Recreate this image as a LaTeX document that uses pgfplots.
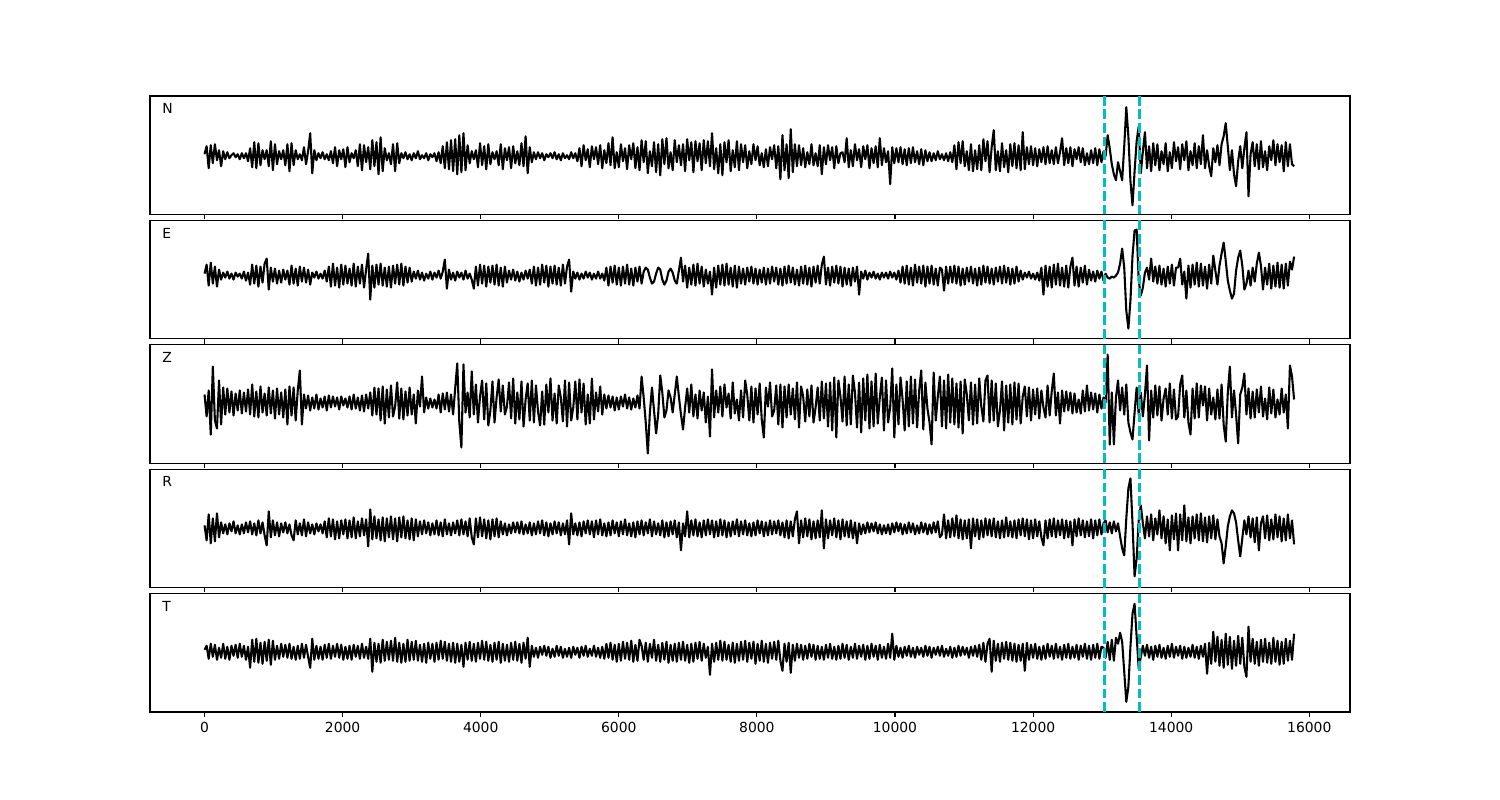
\documentclass[border=0pt]{standalone}
\usepackage{fontspec}
\setmainfont{DejaVu Sans}
\usepackage{pgfplots}
\pgfplotsset{compat=1.18}
\definecolor{cdash}{rgb}{0,0.75,0.75}
\tikzset{lab/.style={anchor=base west, inner sep=0pt, font=\fontsize{10bp}{12bp}\selectfont}}
\pgfplotsset{
 panel/.style={
  width=12in, height=1.1846in, scale only axis, anchor=south west,
  xmin=-790, xmax=16590, ymin=-59.23, ymax=59.23,
  xtick={0,2000,...,16000}, ytick=\empty,
  xtick pos=left, tick align=outside,
  major tick length=3.5bp,
  every tick/.style={black, line width=0.8bp},
  axis line style={line width=0.8bp},
  scaled x ticks=false,
  xticklabel style={font=\fontsize{10bp}{12bp}\selectfont},
  /pgf/number format/assume math mode=true,
  /pgf/number format/1000 sep={},
 },
 tr/.style={black, line width=1.5bp, line join=round, mark=none, empty line=none},
 dl/.style={cdash, line width=2.2bp, dash pattern=on 7bp off 2.8bp},
}
\begin{document}
\begin{tikzpicture}
\useasboundingbox (0,0) rectangle (15in,8in);
% ---------------- N ----------------
\begin{axis}[panel, at={(1.5in,5.8554in)}, xticklabels={}]
\addplot[tr] table[x expr=\coordindex*30, y expr=\thisrowno{0}-1, header=false] {
2
10
-12
11
-7
12
-4
6
-10
5

-3
4
-2
1
3
-1
2
-3
3
-2

3
-5
8
-11
14
-12
13
-9
6
-3

6
-10
15
-14
12
-8
5
-3
6
-9

12
-15
13
-9
6
-3
2
-4
9
-8

5
23
-17
6
-4
3
-2
4
-3
2

-4
5
-7
9
-10
6
-3
7
-11
9

-6
3
-2
6
-10
12
-14
11
-6
9

-13
16
-10
14
-18
19
-15
8
-4
3

-8
12
-15
13
-7
3
-2
4
-3
2

-4
3
-2
5
-3
1
-2
3
-4
2

-1
3
-5
4
-7
10
-12
14
-13
16

-15
17
-18
21
-16
23
-14
11
-7
5

-3
6
-11
13
-9
10
-13
12
-8
4

-3
5
-9
12
-13
8
-4
9
-12
10

-7
5
-9
13
-10
20
-17
9
-6
4

-3
4
-2
3
-4
2
-1
3
-2
4

-3
2
-4
3
-2
1
-3
4
-2
3

-5
8
-10
11
-4
7
-11
10
-3
9

-8
11
-12
6
-7
13
-9
19
-12
4

-11
12
-5
8
-13
11
-3
13
-12
9

-14
16
-6
15
-17
5
-10
14
-16
12

-19
17
-8
18
-12
4
-14
16
-6
11

-9
12
-15
17
-4
14
-16
15
-5
13

-14
16
-7
15
-10
23
-13
8
-17
12

-19
14
-6
16
-15
6
-11
15
-14
12

-6
11
-12
5
-8
12
-4
10
-9
3

-11
7
-10
9
-3
11
-12
10
-23
21

-14
12
-22
27
-16
12
-10
11
-9
8

-11
4
-8
12
-9
3
-10
11
-18
9

-8
11
-4
9
-12
10
-7
3
4
-6

18
-11
6
-10
12
-4
7
-11
10
-3

11
-12
8
-7
10
-11
18
-9
8
-6

5
-28
9
-7
8
-6
9
-8
7
-9

8
-7
9
-6
5
-8
7
-9
6
-5

4
-5
3
-4
5
-3
2
-4
3
-5

4
-6
11
-13
14
-7
15
-10
5
-14

12
-15
6
-13
11
-14
17
-5
15
-16

9
26
-14
5
-15
13
-11
6
-16
12

-10
13
-12
11
-14
24
-13
9
-8
10

-9
8
-10
7
-6
9
-8
10
-7
6

-8
9
-7
4
18
-9
8
-7
9
-10

7
-3
9
-6
8
-9
3
-8
6
-7

8
-9
7
-6
5
0
21
8
-8
-18

-24
-6
-15
-24
10
49
20
-25
-49
-15

15
30
-17
5
24
-12
10
-15
13
-9

12
-14
5
-8
13
-15
4
-12
14
-5

9
-13
12
-4
15
-14
5
-9
13
-12

10
-8
21
-12
6
-10
-20
8
-6
11

-9
12
20
33
10
-14
6
-18
-30
-5

10
-12
8
24
-40
2
14
-10
12
-13

15
-11
5
-14
10
-4
16
-9
12
-6

11
-15
14
-10
12
-8
-10
};
\addplot[dl] coordinates {(13040,-59.23) (13040,59.23)};
\addplot[dl] coordinates {(13535,-59.23) (13535,59.23)};
\node[lab] at (rel axis cs:0.01,0.85) {N};
\end{axis}
% ---------------- E ----------------
\begin{axis}[panel, at={(1.5in,4.6116in)}, xticklabels={}]
\addplot[tr] table[x expr=\coordindex*30, y expr=\thisrowno{0}+4, header=false] {
2
11
-10
13
-8
9
-11
6
-4
3

-2
4
-3
2
-4
3
-1
2
-3
4

-5
3
-9
11
-8
10
-11
9
-7
12

17
-14
8
-6
7
-8
5
-7
6
-4

5
-9
10
-8
7
-10
9
-6
8
-7

6
-9
3
-2
4
-3
2
-3
5
-6

9
-11
12
-10
8
-12
11
-9
10
-8

7
-10
12
-11
9
-8
11
-12
6
22

-24
10
-12
11
-9
12
-10
8
-11
9

-12
10
-8
11
-9
12
-10
9
-7
8

-6
4
-3
5
-4
3
-5
2
-3
4

-4
3
-2
5
-3
4
16
-13
6
-4

3
-5
4
-2
3
-4
5
-3
2
-4

-13
9
-10
11
-8
10
-11
9
-7
10

-9
11
-10
8
-11
9
-7
5
-4
6

-5
4
-6
3
-4
5
-3
6
-8
9

-10
8
-9
11
-7
10
-11
9
-8
10

-9
8
-10
11
-8
9
16
-16
4
-3

3
-4
2
-3
4
-2
3
-4
2
-3

4
-3
2
-5
8
-10
9
-7
10
-9

8
-10
9
-8
11
-9
7
-10
8
-6

9
-8
4
8
6
-2
-8
-6
2
8

6
-4
-9
-5
4
7
3
-5
-8
5

18
-6
10
-12
8
-9
11
-10
12
-8

9
-11
6
-8
4
-19
8
-12
10
-9

11
-10
12
-9
8
-11
10
-12
9
-8

7
-9
8
-6
9
-8
7
-9
6
-7

8
-9
7
-8
9
-6
8
-9
7
-10

9
-8
10
-7
8
-9
6
-10
9
-8

10
-9
8
-11
9
-7
10
-8
11
19

-9
8
-10
9
-7
10
-8
9
-11
8

-9
7
-10
8
-6
9
-19
4
-3
5

-4
3
-2
4
-3
2
-4
3
-2
3

-3
4
-2
3
-4
5
-7
9
-8
10

-9
8
-10
11
-7
9
-8
10
-11
9

-8
10
-9
7
-10
8
6
-15
9
-8

9
-7
10
-8
9
-10
7
-9
8
-6

9
-8
7
-10
8
-9
10
-7
9
-8

7
-9
8
-6
9
-8
10
-7
8
-9

7
-8
9
-6
5
-4
3
-2
4
-3

2
-4
3
-5
8
-19
10
-11
9
-12

11
-9
12
-10
8
-11
10
-12
9
18

-10
9
-11
8
-7
10
-9
6
-5
4

-6
5
-3
4
-5
2
-2
-3
-1
-2

0
3
12
27
8
-35
-53
-25
20
45

46
-5
-20
-12
3
8
-4
17
-6
9

-8
10
-9
7
-11
9
-8
11
-10
8

8
17
-9
4
-23
10
-12
11
-9
13

-11
12
-10
9
-13
11
-8
20
5
-9

10
22
33
15
-5
-15
-23
-18
5
18

25
10
-14
-8
5
-10
8
-6
12
23

10
-14
8
-9
12
-13
10
-11
13
-12

11
-13
12
-10
14
6
19
};
\addplot[dl] coordinates {(13040,-59.23) (13040,59.23)};
\addplot[dl] coordinates {(13535,-59.23) (13535,59.23)};
\node[lab] at (rel axis cs:0.01,0.85) {E};
\end{axis}
% ---------------- Z ----------------
\begin{axis}[panel, at={(1.5in,3.3678in)}, xticklabels={}]
\addplot[tr] table[x expr=\coordindex*30, y expr=\thisrowno{0}+1.5, header=false] {
8
-14
12
-32
36
-18
-26
22
-22
15

-12
14
-10
11
-13
9
-8
12
-11
10

-9
13
-12
18
-14
11
-15
16
-10
9

-13
15
-11
12
-16
14
-12
10
-15
13

-22
16
-13
15
-18
12
32
-22
8
-6

7
-8
5
-6
8
-7
4
-5
6
-8

7
-5
6
-4
5
-7
6
-3
4
-5

6
-7
8
-6
5
-8
7
-9
8
-6

10
-13
15
-12
14
-18
16
-21
13
-15

17
-14
-4
20
-16
14
-17
11
-13
15

-12
8
-21
12
-4
26
-10
5
-6
4

-5
3
-6
8
-10
9
-7
10
-9
8

-12
14
39
-20
-45
38
-10
10
-15
31

-12
18
-20
6
22
-17
19
-23
-8
21

-20
5
23
-9
17
-12
-4
20
-16
24

-21
10
-17
21
-24
3
19
-18
22
-20

17
-9
-23
11
-22
18
-10
24
-18
9

-21
17
5
-19
22
-24
20
-18
-5
21

-17
23
-10
19
-22
8
-21
24
-17
10

-9
16
-12
8
-6
7
-5
6
-8
5

-7
6
-4
8
-6
5
-7
4
-5
7

-6
26
5
-20
-51
-10
15
-8
-31
-12

27
10
-15
-8
12
5
-10
8
26
6

-12
-27
-5
14
-10
18
-14
8
-16
12

-8
10
-20
6
-34
33
-15
12
-10
16

-14
18
-5
9
-16
20
-11
3
-18
12

-15
22
8
-18
16
-20
14
-12
19
-17

-35
15
-4
20
-14
-8
17
-22
18
-25

16
-15
18
-12
14
-17
20
-25
16
6

-19
13
-14
17
-20
-5
15
-18
21
-16

19
-24
20
-28
25
-35
22
6
-19
26

-23
18
-22
27
10
-25
20
-30
24
-18

28
-26
21
-24
29
-21
5
25
-28
22

-20
-5
34
-35
18
-22
25
3
-28
21

-24
26
-21
23
-25
12
32
-27
20
-6

-20
-42
30
-18
6
26
-24
22
-26
28

-20
24
-22
19
-25
21
-31
23
8
-18

20
-22
18
-21
24
-4
-19
22
27
-20

22
-18
19
-24
-8
21
-28
17
-20
18

-22
20
-17
19
-21
6
16
-14
15
-18

13
-12
14
-16
12
-5
-15
17
-13
11

29
-13
10
-21
12
-9
11
-8
10
-11

9
-10
3
-11
12
-9
17
-8
10
-7

9
-10
8
-6
5
0
48
-42
10
-42

5
22
-8
15
-12
18
-20
-30
-37
-10

15
-12
10
-14
8
37
-38
12
-15
17

-13
16
-18
4
14
-12
19
-16
13
-17

-14
18
27
-15
12
-20
-32
14
-16
19

-15
17
-3
16
-18
14
-12
5
-17
13

-16
18
-22
-39
10
36
-15
12
-12
-41

8
15
29
-12
14
-16
11
-15
13
-10

16
-14
4
-17
15
-11
13
-15
3
-12

14
-10
8
-26
37
26
3
};
\addplot[dl] coordinates {(13040,-59.23) (13040,59.23)};
\addplot[dl] coordinates {(13535,-59.23) (13535,59.23)};
\node[lab] at (rel axis cs:0.01,0.85) {Z};
\end{axis}
% ---------------- R ----------------
\begin{axis}[panel, at={(1.5in,2.124in)}, xticklabels={}]
\addplot[tr] table[x expr=\coordindex*30, y expr=\thisrowno{0}, header=false] {
3
-12
14
-15
10
-13
15
-9
6
-5

4
-6
5
-3
7
-5
3
-6
4
-5

6
-4
7
-6
5
-7
8
-5
6
-7

-17
17
-9
8
-7
6
-8
5
-4
6

-5
4
-7
-12
8
-6
5
-7
9
-8

6
-5
4
-6
5
-3
4
-5
7
-9

10
-8
9
-11
7
-10
8
-6
9
-10

8
-9
11
-10
7
-8
10
-7
9
-18

19
-11
12
-10
9
-12
11
-13
10
-9

12
-11
10
-13
11
-9
12
-10
8
-11

10
-12
9
-8
7
-6
8
-5
6
-7

5
-6
8
-7
6
-8
9
-6
5
-7

6
-5
8
-7
9
-6
7
-8
10
-9

-16
10
-9
11
-8
9
-10
8
-11
9

-8
10
-9
7
-6
5
-7
4
-5
6

-4
6
-5
7
-6
4
-5
6
-7
5

-6
7
-5
8
-7
6
-8
5
-6
7

-5
6
-7
5
-6
8
-16
15
-6
5

-7
6
-8
7
-5
8
-6
7
-9
8

-6
9
-7
5
-8
6
-7
8
-5
6

-8
7
-6
9
-7
5
-8
6
-9
7

-6
8
-7
6
-5
9
-8
7
-6
5

-7
8
-9
6
-8
7
-6
8
-9
6

-22
5
-8
17
-9
8
-7
9
-8
6

-9
8
-7
9
-6
8
-9
7
-8
9

-7
8
-9
6
-8
7
-6
9
-8
7

-6
8
-7
5
-8
6
-7
8
-5
7

-8
6
-7
8
-6
7
-5
8
-7
6

-9
8
-10
7
-8
9
17
-15
8
-9

10
-8
9
-11
7
-10
8
-9
18
-20

9
-10
8
-7
10
-9
8
-11
9
-8

7
-9
8
-10
6
-15
5
-6
4
-5

6
-4
5
-3
6
-5
4
-6
3
-5

4
-6
5
-4
6
-3
5
-6
4
-5

6
-4
5
-6
3
-5
6
-4
5
-6

4
-5
6
-4
7
-9
-6
14
-10
8

-9
10
-8
13
-10
9
-11
8
-10
9

-20
10
-8
9
-11
8
-9
10
-7
9

-8
10
-9
7
-10
8
-9
11
-8
7

-9
8
-10
9
-7
10
-8
9
-11
8

-10
9
-8
7
-9
-17
8
-10
9
-8

10
-9
8
-7
9
-10
8
-9
7
-17

9
-8
10
-7
8
-9
7
-8
9
-10

8
-7
9
-6
5
8
-4
6
-5
7

-3
5
-8
-20
-27
10
40
50
5
-48

-30
8
23
5
-10
12
-8
14
-12
10

-6
18
-10
12
-15
9
-22
13
-11
15

-22
14
-12
23
-13
11
-15
12
-10
14

-12
15
-13
11
-14
12
-10
13
-11
9

-8
-15
-35
-18
2
12
18
15
6
-12

-28
-10
8
-6
12
-9
10
-14
11
-22

5
12
-10
13
-12
9
-11
14
-9
12

-13
10
-12
14
-10
8
-16
};
\addplot[dl] coordinates {(13040,-59.23) (13040,59.23)};
\addplot[dl] coordinates {(13535,-59.23) (13535,59.23)};
\node[lab] at (rel axis cs:0.01,0.85) {R};
\end{axis}
% ---------------- T ----------------
\begin{axis}[panel, at={(1.5in,0.88in)}]
\addplot[tr] table[x expr=\coordindex*30, y expr=\thisrowno{0}+1, header=false] {
2
6
-7
8
-5
7
-8
4
-6
8

-7
5
-8
6
-4
7
-6
8
-5
6

-8
5
-16
12
-10
13
-11
9
-12
10

-9
12
-13
11
-8
6
-7
8
-5
7

-6
8
-7
5
-8
6
-7
8
-6
7

-5
-16
13
-8
6
-7
5
-8
7
-6

8
-7
6
-5
8
-6
7
-8
5
-7

6
-8
7
-5
6
-7
8
-6
5
-7

13
-20
9
-10
8
-11
12
-9
10
-8

11
-9
14
-10
9
-11
8
-10
12
-9

10
-8
11
-9
7
-10
8
-11
9
-7

8
-10
9
-8
11
-7
10
-9
8
-10

9
-11
8
-10
7
-15
9
-8
10
-9

8
-10
9
-7
11
-8
10
-9
7
-10

9
-8
10
-11
8
-9
7
-10
9
-8

10
-9
8
-11
9
-7
14
-15
6
-5

4
-6
5
-3
6
-4
5
-6
3
-5

6
-4
5
-6
3
-5
4
-6
5
-3

4
-6
5
-4
6
-5
3
-4
6
-5

4
-6
5
-7
8
-6
9
-8
7
-10

8
-9
10
-7
9
-8
11
-10
7
-9

12
6
-8
9
-10
8
-6
12
-9
7

-10
9
-8
10
-11
7
-9
8
-10
9

-8
10
-9
7
-11
8
-10
9
-7
10

-9
8
-6
5
-23
8
-10
9
-8
11

-9
10
-8
7
-10
9
-11
8
-9
10

-8
11
-10
9
-7
10
-12
8
-9
11

-10
8
-11
9
-7
10
-8
11
-9
-19

8
-10
9
-21
7
-9
8
-6
7
-8

6
-7
8
-5
7
-8
6
-7
5
-8

7
-6
8
-7
5
-8
6
-7
8
-6

7
-8
5
-6
8
-7
6
-5
7
-8

6
-7
8
-5
6
-8
7
-6
5
-7

8
-6
18
-8
6
-5
4
-6
5
-4

6
-5
4
-6
5
-3
4
-5
6
-4

5
-6
4
-3
5
-4
6
-5
3
-4

5
-6
4
-5
6
-4
5
-3
4
-6

5
-4
6
-5
7
-8
9
-10
8
13

-20
11
-9
8
-10
9
-7
10
-8
9

-9
8
-10
7
-9
8
-19
9
-8
7

-6
8
-7
5
-8
6
-7
8
-5
6

-7
8
-6
5
-8
7
-6
8
-7
5

-6
7
-8
6
-5
8
-7
6
-8
7

-6
8
-7
5
4
-6
10
-8
12
-9

14
8
19
10
-20
-50
-35
5
38
48

15
-17
-5
6
-4
7
-6
5
-8
6

-5
7
-6
4
-7
6
-5
8
-6
5

-4
6
-7
5
-6
4
-5
7
-6
5

-7
6
-5
8
-22
9
-12
20
-10
15

-14
12
-16
18
-13
15
-17
11
-14
16

-12
14
-15
-25
25
-10
13
-12
10
-14

12
-10
13
-11
9
-12
14
-10
11
-13

10
-12
13
-9
11
-8
18
};
\addplot[dl] coordinates {(13040,-59.23) (13040,59.23)};
\addplot[dl] coordinates {(13535,-59.23) (13535,59.23)};
\node[lab] at (rel axis cs:0.01,0.85) {T};
\end{axis}
\end{tikzpicture}
\end{document}
